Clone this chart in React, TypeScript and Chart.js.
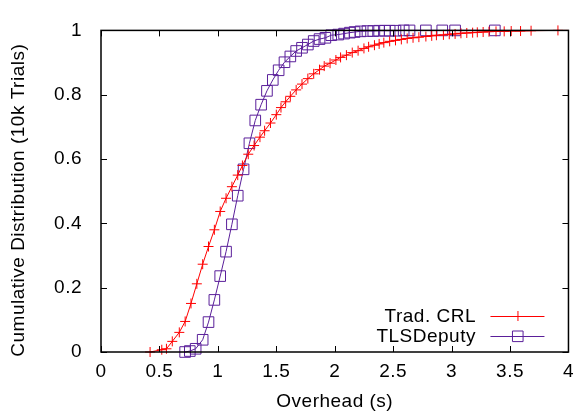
import React, { useEffect, useRef } from 'react';
import { Chart, registerables } from 'chart.js';

Chart.register(...registerables);

// ---- data ----
const seriesNames = ['Trad. CRL', 'TLSDeputy'];
const xTitle = 'Overhead (s)';
const yTitle = 'Cumulative Distribution (10k Trials)';

const crlX = [0.42, 0.52, 0.56, 0.61, 0.67, 0.72, 0.77, 0.82, 0.87, 0.92, 0.97, 1.02, 1.07, 1.12, 1.17, 1.21, 1.26, 1.31, 1.36, 1.40, 1.45, 1.50, 1.54, 1.58, 1.62, 1.67, 1.72, 1.77, 1.82, 1.87, 1.91, 1.96, 2.01, 2.05, 2.10, 2.15, 2.20, 2.25, 2.29, 2.34, 2.38, 2.42, 2.47, 2.52, 2.57, 2.62, 2.67, 2.72, 2.78, 2.83, 2.87, 2.93, 2.98, 3.03, 3.08, 3.13, 3.18, 3.22, 3.27, 3.32, 3.38, 3.45, 3.51, 3.59, 3.68, 3.91, 4.10];
const crlY = [0.000, 0.007, 0.010, 0.033, 0.061, 0.095, 0.151, 0.212, 0.273, 0.328, 0.380, 0.437, 0.478, 0.514, 0.550, 0.580, 0.615, 0.642, 0.668, 0.688, 0.712, 0.738, 0.760, 0.778, 0.795, 0.815, 0.833, 0.850, 0.865, 0.878, 0.889, 0.898, 0.908, 0.916, 0.923, 0.931, 0.937, 0.944, 0.949, 0.954, 0.958, 0.962, 0.966, 0.969, 0.972, 0.975, 0.977, 0.979, 0.981, 0.983, 0.985, 0.986, 0.988, 0.989, 0.991, 0.992, 0.993, 0.994, 0.995, 0.996, 0.997, 0.997, 0.998, 0.998, 0.999, 1.000, 1.000];

const depX = [0.72, 0.76, 0.81, 0.87, 0.92, 0.97, 1.02, 1.07, 1.12, 1.17, 1.22, 1.27, 1.32, 1.37, 1.42, 1.47, 1.52, 1.57, 1.62, 1.67, 1.72, 1.77, 1.82, 1.87, 1.92, 1.97, 2.03, 2.08, 2.13, 2.17, 2.22, 2.28, 2.33, 2.38, 2.43, 2.47, 2.52, 2.59, 2.64, 2.78, 2.92, 3.03, 3.37];
const depY = [0.000, 0.003, 0.010, 0.038, 0.093, 0.162, 0.236, 0.312, 0.397, 0.486, 0.568, 0.649, 0.720, 0.769, 0.812, 0.846, 0.876, 0.901, 0.919, 0.936, 0.946, 0.956, 0.967, 0.973, 0.977, 0.985, 0.987, 0.990, 0.993, 0.995, 0.997, 0.998, 0.998, 0.999, 0.999, 0.999, 0.999, 1.000, 1.000, 1.000, 1.000, 1.000, 1.000];

const xTicks = [0, 0.5, 1, 1.5, 2, 2.5, 3, 3.5, 4];
const xTickLabels = ['0', '0.5', '1', '1.5', '2', '2.5', '3', '3.5', '4'];
const yTicks = [0, 0.2, 0.4, 0.6, 0.8, 1];
const yTickLabels = ['0', '0.2', '0.4', '0.6', '0.8', '1'];

// ---- styles ----
const FONT = "'Liberation Sans', Arial, Helvetica, sans-serif";
const FONT_SIZE = 19;
const RED = '#ff0000';
const PURPLE = '#5a1f9a';
const SPACING = '0.5px';

const toPoints = (xs: number[], ys: number[]) => xs.map((x, i) => ({ x, y: ys[i] }));

const spacingPlugin = {
  id: 'letterSpacing',
  beforeUpdate(chart: any) {
    chart.ctx.letterSpacing = SPACING;
  },
  beforeLayout(chart: any) {
    chart.ctx.letterSpacing = SPACING;
  },
  beforeDraw(chart: any) {
    chart.ctx.letterSpacing = SPACING;
  },
};

const gnuPlugin = {
  id: 'gnuFrame',
  afterDraw(chart: any) {
    const { ctx, chartArea: a, scales } = chart;
    ctx.save();
    ctx.letterSpacing = SPACING;
    // inward ticks on all four sides
    ctx.strokeStyle = '#000';
    ctx.lineWidth = 1;
    const tl = 6;
    ctx.beginPath();
    xTicks.forEach((v) => {
      const px = Math.round(scales.x.getPixelForValue(v)) + 0.5;
      ctx.moveTo(px, a.bottom);
      ctx.lineTo(px, a.bottom - tl);
      ctx.moveTo(px, a.top);
      ctx.lineTo(px, a.top + tl);
    });
    yTicks.forEach((v) => {
      const py = Math.round(scales.y.getPixelForValue(v)) + 0.5;
      ctx.moveTo(a.left, py);
      ctx.lineTo(a.left + tl, py);
      ctx.moveTo(a.right, py);
      ctx.lineTo(a.right - tl, py);
    });
    ctx.stroke();
    // frame
    ctx.lineWidth = 1.5;
    ctx.strokeRect(a.left, a.top, a.right - a.left, a.bottom - a.top);

    // y title
    ctx.fillStyle = '#000';
    ctx.font = `${FONT_SIZE}px ${FONT}`;
    ctx.textAlign = 'center';
    ctx.textBaseline = 'middle';
    ctx.save();
    ctx.translate(19, (a.top + a.bottom) / 2 + 9);
    ctx.rotate(-Math.PI / 2);
    ctx.fillText(yTitle, 0, 0);
    ctx.restore();

    // legend (gnuplot style: text, then sample)
    const entries = [
      { label: seriesNames[0], color: RED, style: 'cross' },
      { label: seriesNames[1], color: PURPLE, style: 'rect' },
    ];
    entries.forEach((e, i) => {
      const y = a.bottom - 36 + i * 20;
      ctx.fillStyle = '#000';
      ctx.textAlign = 'right';
      ctx.textBaseline = 'middle';
      ctx.fillText(e.label, a.right - 92.5, y + 1);
      ctx.strokeStyle = e.color;
      ctx.lineWidth = 1;
      ctx.beginPath();
      ctx.moveTo(a.right - 78, y + 0.5);
      ctx.lineTo(a.right - 24, y + 0.5);
      ctx.stroke();
      const cx = a.right - 51;
      ctx.beginPath();
      if (e.style === 'cross') {
        ctx.moveTo(cx - 5, y + 0.5);
        ctx.lineTo(cx + 5, y + 0.5);
        ctx.moveTo(cx + 0.5, y - 5);
        ctx.lineTo(cx + 0.5, y + 5);
      } else {
        ctx.rect(cx - 5, y - 5, 10.6, 10.6);
      }
      ctx.stroke();
    });
    ctx.restore();
  },
};

export default function App() {
  const ref = useRef<HTMLCanvasElement | null>(null);

  useEffect(() => {
    if (!ref.current) return;
    const tickFont = { family: FONT, size: FONT_SIZE };
    const chart = new Chart(ref.current, {
      type: 'line',
      data: {
        datasets: [
          {
            label: seriesNames[0],
            data: toPoints(crlX, crlY),
            borderColor: RED,
            backgroundColor: RED,
            borderWidth: 1,
            pointStyle: 'cross',
            pointRadius: 5,
            pointBorderWidth: 1,
            pointBorderColor: RED,
            tension: 0,
            fill: false,
            clip: { left: 10, right: 0, top: 12, bottom: 12 },
          } as any,
          {
            label: seriesNames[1],
            data: toPoints(depX, depY),
            borderColor: PURPLE,
            backgroundColor: 'rgba(0,0,0,0)',
            borderWidth: 1,
            pointStyle: 'rect',
            pointRadius: 7.5,
            pointBorderWidth: 1,
            pointBorderColor: PURPLE,
            pointBackgroundColor: 'rgba(0,0,0,0)',
            tension: 0,
            fill: false,
            clip: { left: 10, right: 0, top: 12, bottom: 12 },
          } as any,
        ],
      },
      options: {
        responsive: false,
        animation: false,
        layout: { padding: { top: 15, right: 9, left: 0, bottom: 0 } },
        plugins: {
          legend: { display: false },
          tooltip: { enabled: false },
        },
        scales: {
          x: {
            type: 'linear',
            min: 0,
            max: 4,
            afterBuildTicks: (s: any) => {
              s.ticks = xTicks.map((v) => ({ value: v }));
            },
            afterFit: (s: any) => {
              s.height = 61;
            },
            ticks: {
              callback: (_v: any, i: number) => xTickLabels[i],
              font: tickFont,
              color: '#000',
              padding: 8,
              maxRotation: 0,
              autoSkip: false,
            },
            grid: { display: false, drawTicks: false },
            border: { display: false },
            title: {
              display: true,
              text: xTitle,
              font: tickFont,
              color: '#000',
              padding: { top: 0, bottom: 0 },
            },
          },
          y: {
            type: 'linear',
            min: 0,
            max: 1,
            afterBuildTicks: (s: any) => {
              s.ticks = yTicks.map((v) => ({ value: v }));
            },
            afterFit: (s: any) => {
              s.width = 101;
            },
            ticks: {
              callback: (_v: any, i: number) => yTickLabels[i],
              font: tickFont,
              color: '#000',
              padding: 19,
              autoSkip: false,
            },
            grid: { display: false, drawTicks: false },
            border: { display: false },
          },
        },
      },
      plugins: [spacingPlugin, gnuPlugin],
    } as any);
    return () => chart.destroy();
  }, []);

  return (
    <div style={{ position: 'absolute', left: 0, top: 0, width: 582, height: 413, background: '#fff' }}>
      <canvas ref={ref} width={582} height={413} style={{ width: 582, height: 413, display: 'block' }} />
    </div>
  );
}
